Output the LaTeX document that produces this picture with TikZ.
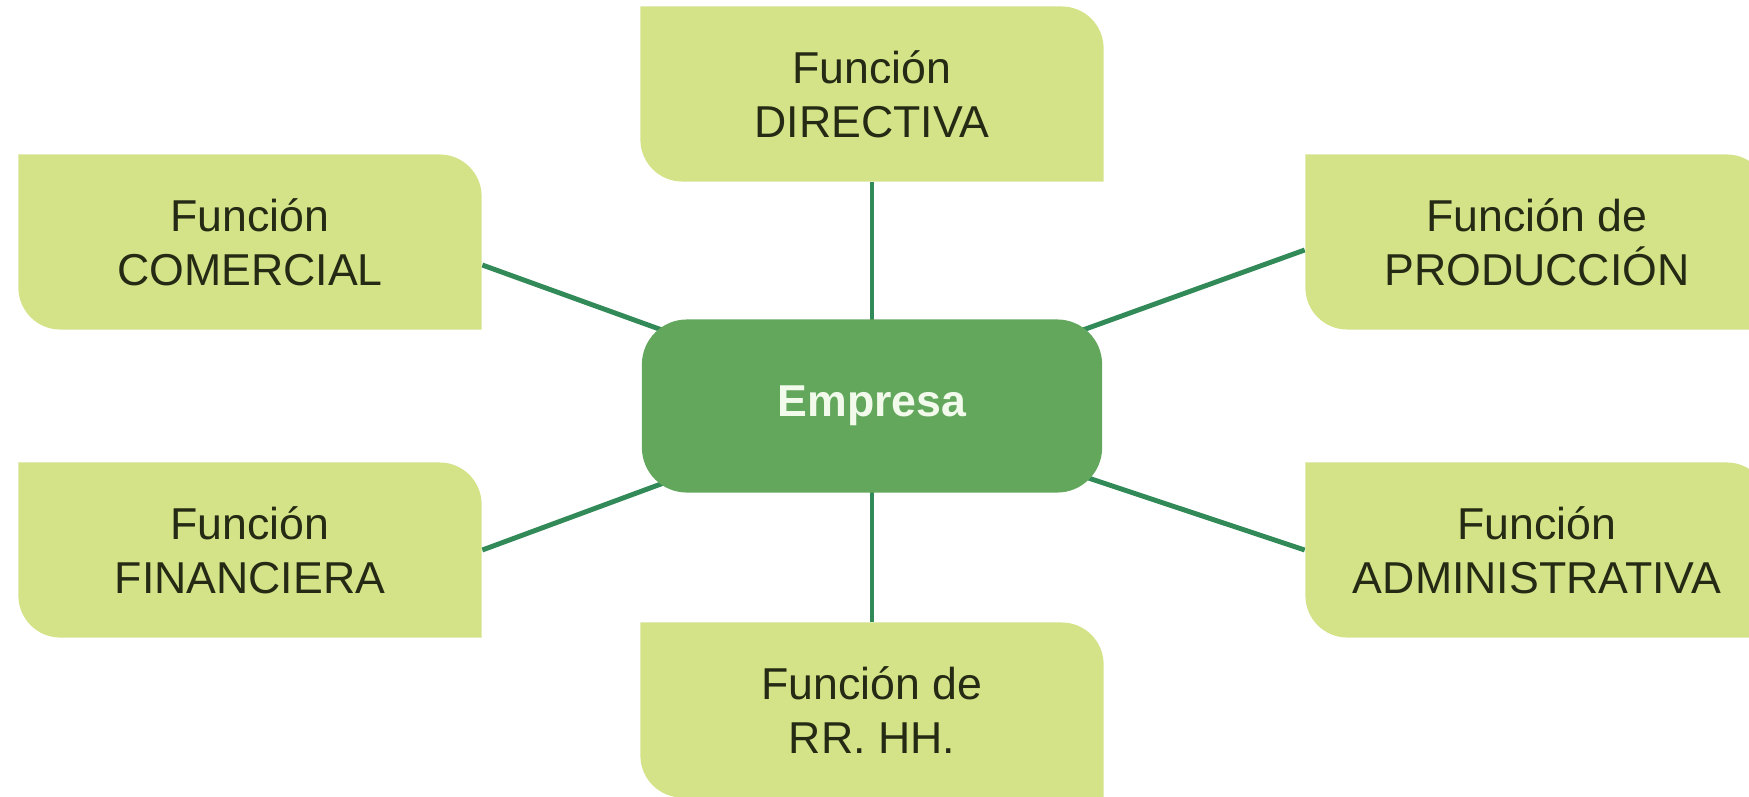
\documentclass[tikz,border=0pt]{standalone}
\usepackage{fontspec}
\setmainfont{Liberation Sans}
\usepackage{xcolor}
\definecolor{funclight}{RGB}{212,226,136}
\definecolor{coregreen}{RGB}{99,167,93}
\definecolor{linkgreen}{RGB}{50,138,88}
\definecolor{textdark}{RGB}{36,42,20}
\definecolor{textlight}{RGB}{242,250,236}
\usepackage{tikz}
\usetikzlibrary{backgrounds}
\newcommand{\widthbox}{4.63cm}
\newcommand{\heightbox}{1.75cm}
\newcommand{\radiusbox}{0.42cm}
\tikzset{
    common/.style={align=center, inner sep=0pt, font=\fontsize{12.7}{15.4}\selectfont},
    func/.style={common, text=textdark, minimum width=\widthbox, minimum height=\heightbox,
        path picture={
            \fill[funclight]
                (path picture bounding box.north west)
                -- ([xshift=-\radiusbox]path picture bounding box.north east)
                arc[start angle=90, end angle=0, radius=\radiusbox]
                -- (path picture bounding box.south east)
                -- ([xshift=\radiusbox]path picture bounding box.south west)
                arc[start angle=270, end angle=180, radius=\radiusbox]
                -- cycle;
        }},
    core/.style={common, text=textlight, font=\fontsize{12.7}{15.4}\selectfont\bfseries,
        fill=coregreen, rounded corners=0.45cm, minimum width=4.6cm, minimum height=1.73cm},
    link/.style={linkgreen, line width=1.4pt}
}
\begin{document}
\begin{tikzpicture}[x=0.01cm, y=0.01cm]
    \useasboundingbox (0,0) rectangle (1749,796);

    \path
        (872,390) node[core] (emp) {Empresa}
        ++(0,312) node[func] (dir) {Función\\DIRECTIVA}
        ++(-622,-148) node[func] (com) {Función\\COMERCIAL}
        ++(1287,0) node[func] (pro) {Función de\\PRODUCCIÓN}
        ++(0,-308) node[func] (adm) {Función\\ADMINISTRATIVA}
        ++(-1287,0) node[func] (fin) {Función\\FINANCIERA}
        ++(622,-160) node[func] (rrhh) {Función de\\RR. HH.};

    \begin{scope}[on background layer]
        \draw[link] (dir.south) -- (emp.center) -- (rrhh.north);
        \draw[link]
            ([yshift=-0.23cm]com.east) -- (emp.center)
            ([yshift=-0.08cm]pro.west) -- (emp.center)
            (fin.east) -- (emp.center)
            (adm.west) -- (emp.center);
    \end{scope}
\end{tikzpicture}
\end{document}
